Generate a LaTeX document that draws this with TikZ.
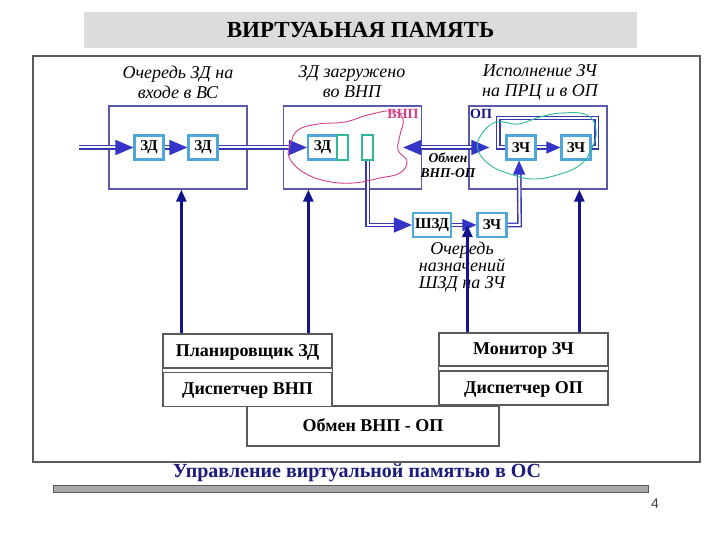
\documentclass[tikz,border=0pt]{standalone}
\usepackage{fontspec}
\setmainfont{Liberation Serif}
\newfontfamily\pagenumfont{Liberation Sans}
\usetikzlibrary{arrows.meta,positioning}
\definecolor{titlegray}{HTML}{DCDCDC}
\definecolor{framegray}{HTML}{5A5A5A}
\definecolor{boxpurple}{HTML}{5A5AAA}
\definecolor{qblue}{HTML}{4FA6D8}
\definecolor{tealc}{HTML}{2DB89A}
\definecolor{pinkc}{HTML}{D0408A}
\definecolor{lineblue}{HTML}{3838B0}
\definecolor{tipblue}{HTML}{3434C8}
\definecolor{navyc}{HTML}{14148C}
\definecolor{capnavy}{HTML}{1C1C7C}
\definecolor{bargray}{HTML}{AAAAAA}
\begin{document}
\begin{tikzpicture}[x=1pt,y=-1pt,
    outerbox/.style={draw=boxpurple, line width=1.3pt, minimum width=138pt, minimum height=83pt, inner sep=0pt},
    qbox/.style={draw=qblue, line width=2.2pt, fill=white, minimum width=29pt, minimum height=24pt, inner sep=0pt, font=\fontsize{15}{15}\selectfont\bfseries},
    tealbox/.style={draw=tealc, line width=1.8pt, minimum width=11pt, minimum height=25pt, inner sep=0pt},
    caption/.style={font=\fontsize{18}{20}\selectfont\itshape, align=center},
    dline/.style={draw=lineblue, double=white, double distance=2pt, line width=1.4pt},
    bigtip/.style={-{Triangle[length=18pt,width=15pt,color=tipblue]}},
    midtip/.style={-{Triangle[length=14pt,width=12pt,color=tipblue]}},
    uparr/.style={draw=navyc, line width=2.6pt, -{Triangle[length=12pt,width=10pt]}},
    mgrbox/.style={draw=framegray, line width=1.3pt, fill=white, minimum width=169pt, minimum height=34pt, inner sep=0pt, text depth=1pt, font=\fontsize{18}{18}\selectfont\bfseries}
]
    \useasboundingbox (0,0) rectangle (720,540);
    \fill[white] (0,0) rectangle (720,540);

    % Title
    \node[fill=titlegray, minimum width=553pt, minimum height=36pt, font=\fontsize{23}{23}\selectfont\bfseries] (title) at (360.5,30) {ВИРТУАЬНАЯ ПАМЯТЬ};

    % Main frame
    \draw[framegray, line width=1.6pt] (33,56) rectangle (700,462);

    % Upper boxes
    \node[outerbox] (box1) at (178,147.5) {};
    \node[outerbox] (box2) at (352.5,147.5) {};
    \node[outerbox] (box3) at (538,147.5) {};
    \node[font=\fontsize{14}{14}\selectfont\bfseries, text=pinkc] (vnp) at (403,114) {ВНП};
    \node[font=\fontsize{14}{14}\selectfont\bfseries, text=navyc] (op) at (481,114) {ОП};

    % Captions above the boxes
    \node[caption] (lq1) at (178,82) {Очередь ЗД на\\входе в ВС};
    \node[caption] (lq2) at (352,82) {ЗД загружено\\во ВНП};
    \node[caption] (lq3) at (540,82) {Исполнение ЗЧ\\на ПРЦ и в ОП};

    % Queue of tasks
    \coordinate (in) at (79,147.5);
    \node[qbox] (zd1) at (149,147.5) {ЗД};
    \node[qbox] (zd2) at (203,147.5) {ЗД};
    \node[qbox] (zd3) at (322.5,147.5) {ЗД};
    \node[tealbox] (pg1) at (342.5,147.5) {};
    \node[tealbox] (pg2) at (367.5,147.5) {};
    \draw[dline, bigtip] (in) -- (zd1);
    \draw[dline, bigtip] (zd1) -- (zd2);
    \draw[dline, bigtip] (zd2) -- (zd3);

    % Tasks in main memory
    \node[qbox] (zch1) at (521,147.5) {ЗЧ};
    \node[qbox] (zch2) at (576,147.5) {ЗЧ};
    \coordinate (looptop) at (0,118);
    \draw[dline] (zch2.east) -- ++(5,0) |- ([xshift=-7pt]zch1.west |- looptop) |- (zch1.west);
    \draw[dline, midtip] (zch1) -- (zch2);

    % Exchange VNP-OP
    \draw[dline, {Triangle[length=18pt,width=15pt,color=tipblue]}-{Triangle[length=18pt,width=15pt,color=tipblue]}] ([xshift=-19pt]box2.east) -- ([xshift=21pt]box3.west);
    \node[font=\fontsize{13.5}{15}\selectfont\bfseries\itshape, align=center] (obm) at (448,165) {Обмен\\ВНП-ОП};

    % Queue of assignments
    \node[qbox, minimum width=38pt] (shzd) at (432,225) {ШЗД};
    \node[qbox] (zch3) at (492,225) {ЗЧ};
    \draw[dline, bigtip] (pg2.south) |- (shzd.west);
    \draw[dline, midtip] (shzd) -- (zch3);
    \draw[dline, midtip] (zch3.east) -- ++(12,0) -- ([xshift=-2pt]zch1.south);
    \node[caption, font=\fontsize{18}{17}\selectfont\itshape] (lq4) at (462,267) {Очередь\\назначений\\ШЗД на ЗЧ};

    % Memory regions
    \draw[pinkc, line width=0.9pt] plot[smooth cycle, tension=0.7] coordinates {(291,143) (298,130) (318,124) (345,122) (368,115) (392,111) (403,119) (400,135) (398,150) (407,161) (400,173) (380,178) (353,183) (326,181) (303,172) (289,157)};
    \draw[tealc, line width=0.9pt] plot[smooth cycle, tension=0.7] coordinates {(481,135) (496,122) (518,124) (540,117) (562,113) (587,115) (596,130) (592,148) (580,165) (557,175) (533,179) (510,174) (490,165) (478,150)};

    % Managers
    \node[mgrbox] (exch) at (373,426) [minimum width=252pt, minimum height=40pt] {Обмен ВНП - ОП};
    \node[mgrbox] (plan) at (247.5,351) {Планировщик ЗД};
    \node[mgrbox] (disp1) at (247.5,389.5) {Диспетчер ВНП};
    \draw[framegray, line width=1.3pt] (plan.south west) -- (disp1.north west) (plan.south east) -- (disp1.north east);
    \node[mgrbox] (mon) at (523.5,349.5) [minimum height=33pt] {Монитор ЗЧ};
    \node[mgrbox] (disp2) at (523.5,388) {Диспетчер ОП};
    \draw[framegray, line width=1.3pt] (mon.south west) -- (disp2.north west) (mon.south east) -- (disp2.north east);

    % Control arrows
    \draw[uparr] ([xshift=19pt]plan.north west) -- ([xshift=19pt]plan.north west |- box1.south);
    \draw[uparr] ([xshift=146pt]plan.north west) -- ([xshift=146pt]plan.north west |- box2.south);
    \draw[uparr] ([xshift=29pt]mon.north west) -- ([xshift=29pt]mon.north west |- shzd.east);
    \draw[uparr] ([xshift=141pt]mon.north west) -- ([xshift=141pt]mon.north west |- box3.south);

    % Footer
    \node[font=\fontsize{20}{20}\selectfont\bfseries, text=capnavy] (foot) at (357,473) {Управление виртуальной памятью в ОС};
    \draw[fill=bargray, draw=framegray, line width=1pt] (53,485) rectangle (648,492);
    \node[font=\pagenumfont\fontsize{14}{14}\selectfont, text=black!75] (pnum) at (655,504) {4};
\end{tikzpicture}
\end{document}
